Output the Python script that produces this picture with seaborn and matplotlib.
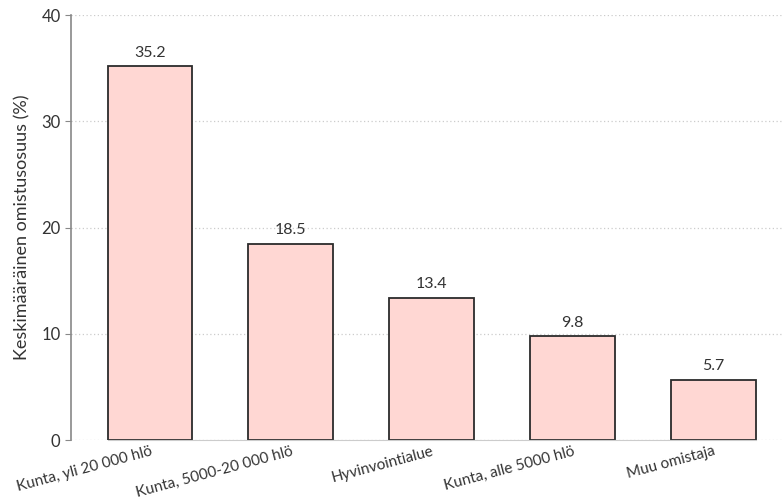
import matplotlib
matplotlib.use("Agg")
import matplotlib.pyplot as plt
import seaborn as sns
import pandas as pd

categories = ["Kunta, yli 20 000 hlö", "Kunta, 5000-20 000 hlö", "Hyvinvointialue",
              "Kunta, alle 5000 hlö", "Muu omistaja"]
values = [35.2, 18.5, 13.4, 9.8, 5.7]
yticks = [0, 10, 20, 30, 40]

df = pd.DataFrame({"omistaja": categories, "osuus": values})

sns.set_style("white")
plt.rcParams['font.family'] = ['Lato', 'DejaVu Sans']
txt = '#333333'

fig = plt.figure(figsize=(7.84, 5.03), dpi=100)
ax = fig.add_axes([0.0906, 0.125, 0.909, 0.845])

sns.barplot(data=df, x="omistaja", y="osuus", ax=ax, color="#ffd7d3",
            edgecolor="#2b2b2b", linewidth=1.3, width=0.6, saturation=1)

for i, v in enumerate(values):
    ax.text(i, v + 0.6, f"{v:.1f}", ha='center', va='bottom', fontsize=11.5, color=txt)

ax.set_ylim(0, 40)
ax.set_xlim(-0.56, 4.5)
ax.set_yticks(yticks)
ax.yaxis.grid(True, linestyle=(0, (1, 2)), color='#cccccc', linewidth=0.9)
ax.set_axisbelow(True)

for s in ['top', 'right']:
    ax.spines[s].set_visible(False)
ax.spines['left'].set_color('#888888')
ax.spines['left'].set_linewidth(1.2)
ax.spines['bottom'].set_color('#cccccc')
ax.spines['bottom'].set_bounds(-0.3, 4.3)

ax.tick_params(axis='y', length=4, color='#888888', labelsize=12, labelcolor=txt, direction='out', left=True)
ax.tick_params(axis='x', length=0, labelsize=11, labelcolor=txt, pad=3)
plt.setp(ax.get_xticklabels(), rotation=15, ha='right', rotation_mode='anchor')

ax.set_xlabel("")
ax.set_ylabel("Keskimääräinen omistusosuus (%)", fontsize=13, color=txt, labelpad=8)

fig.savefig("out.png", dpi=100)
